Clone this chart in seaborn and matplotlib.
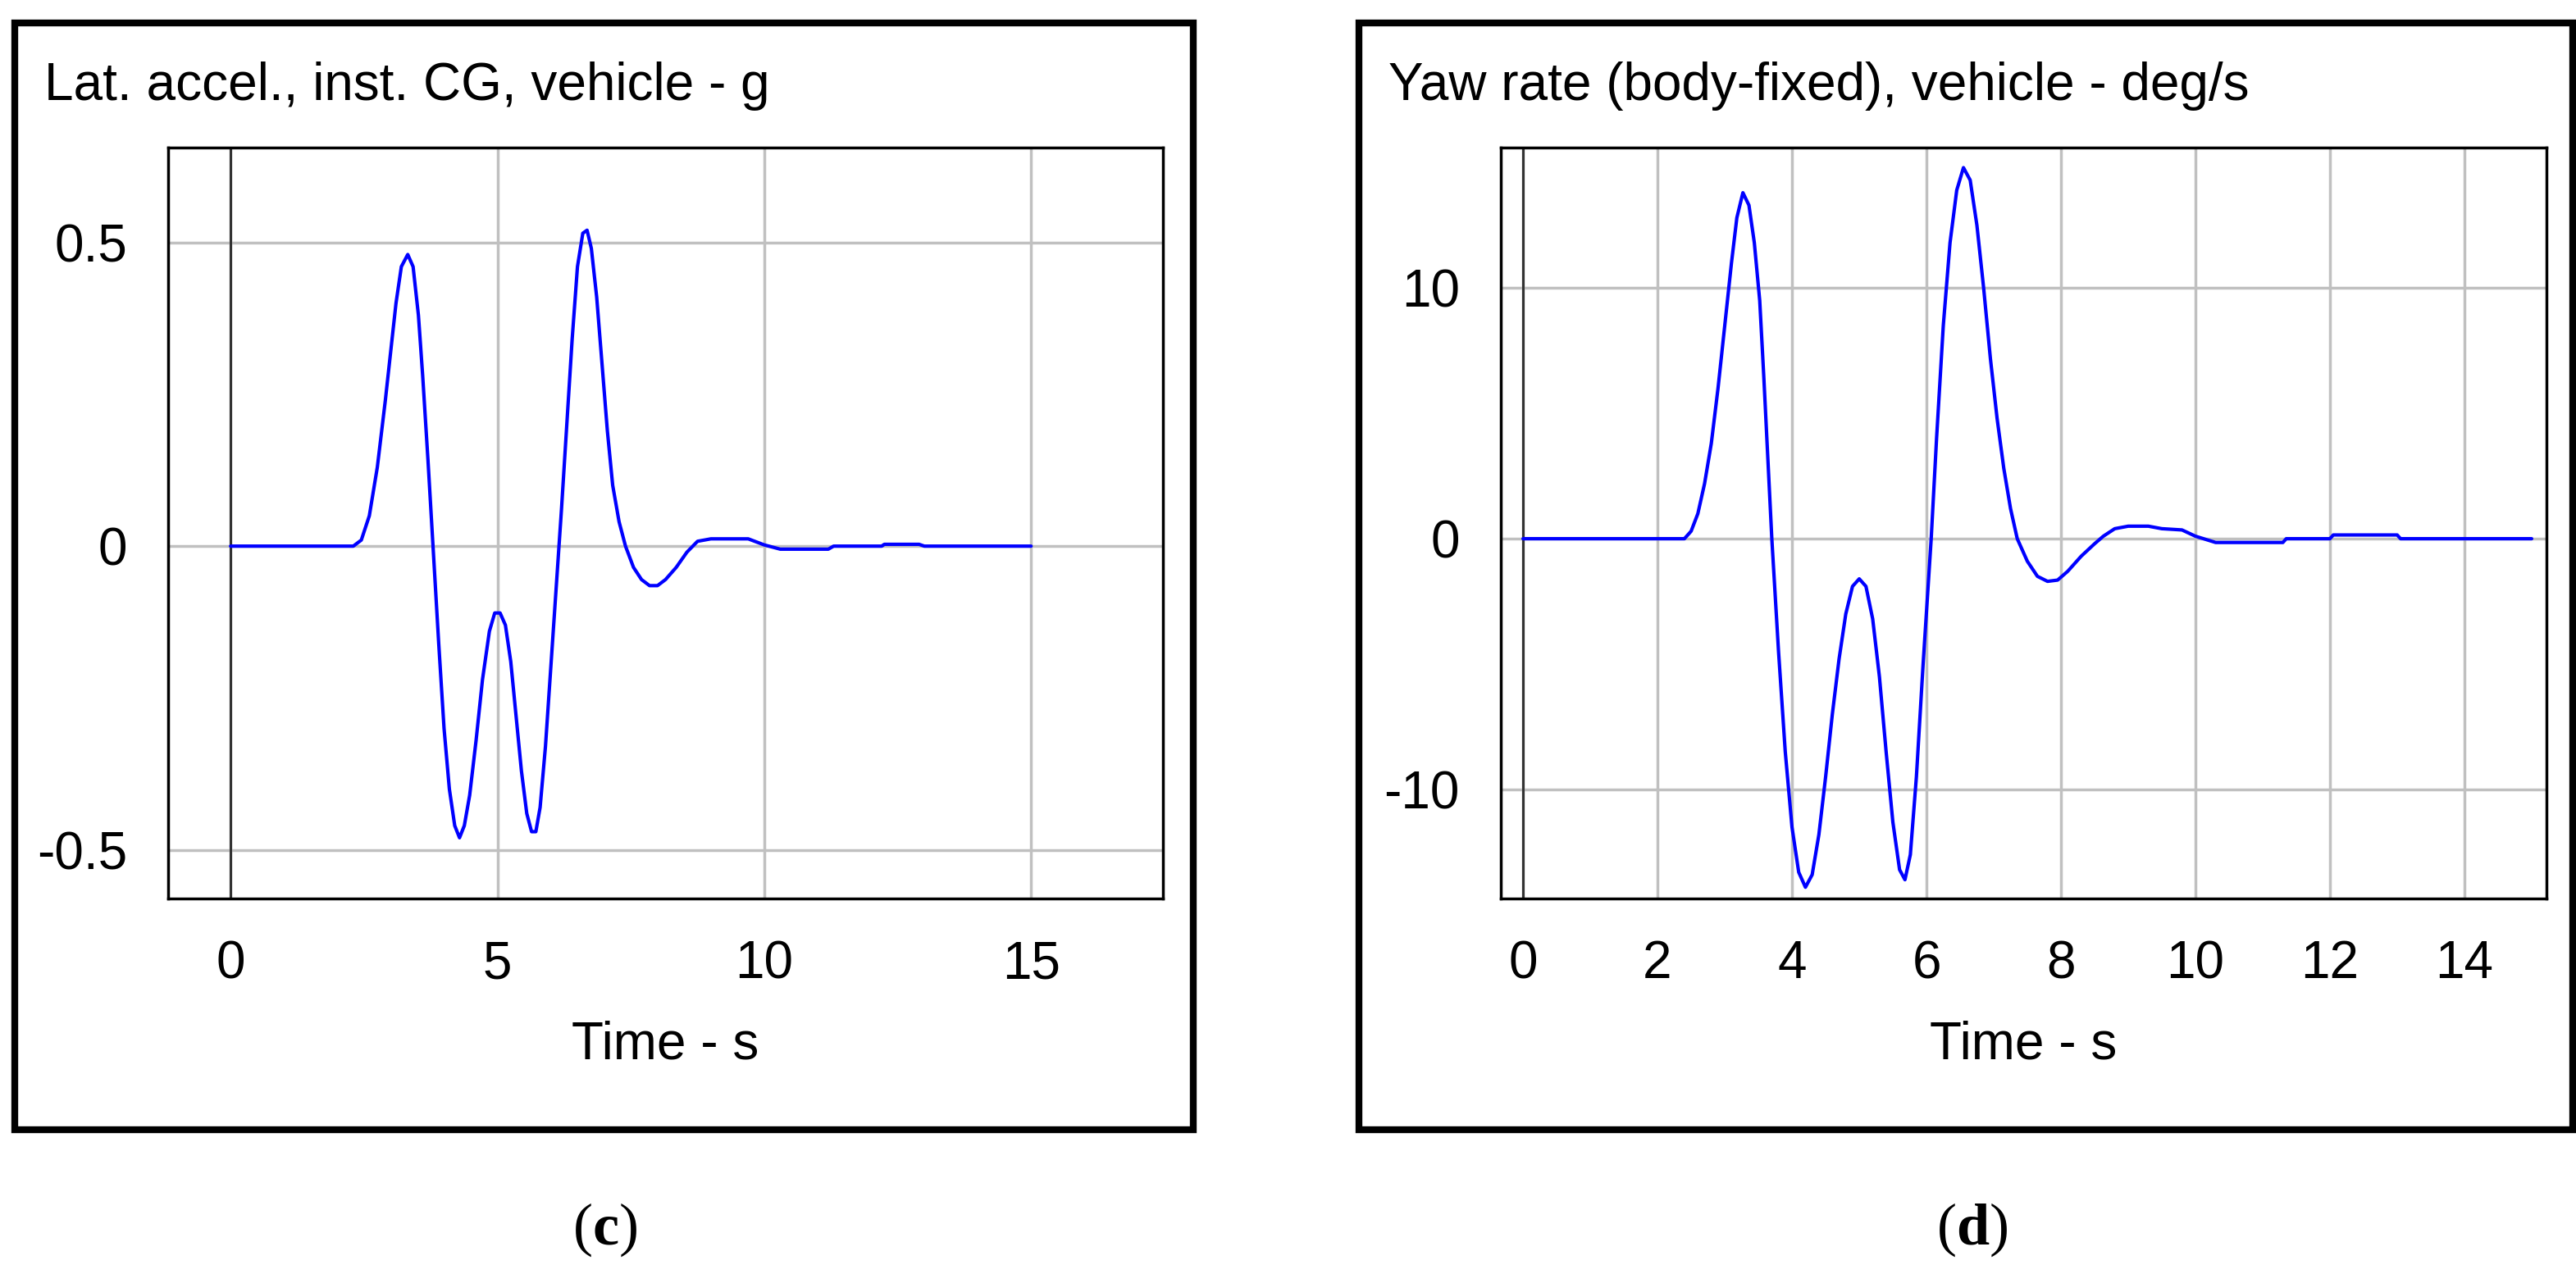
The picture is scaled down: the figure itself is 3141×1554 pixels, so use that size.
import numpy as np
import pandas as pd
import matplotlib
matplotlib.use("Agg")
import matplotlib.pyplot as plt
import seaborn as sns
from matplotlib.patches import Rectangle

# ---- data ----
t_lat = [0, 2.3, 2.45, 2.6, 2.75, 2.9, 3.0, 3.1, 3.2, 3.32, 3.42, 3.52, 3.6, 3.7, 3.8, 3.9,
         4.0, 4.1, 4.2, 4.29, 4.38, 4.48, 4.6, 4.72, 4.85, 4.95, 5.05, 5.15, 5.25, 5.35, 5.45,
         5.55, 5.64, 5.72, 5.8, 5.9, 6.0, 6.1, 6.2, 6.3, 6.4, 6.5, 6.6, 6.68, 6.76, 6.86, 6.96,
         7.06, 7.16, 7.28, 7.4, 7.55, 7.7, 7.85, 8.0, 8.15, 8.35, 8.55, 8.75, 9.0, 9.7, 10.0,
         10.3, 11.2, 11.3, 12.2, 12.25, 12.9, 13.0, 15.0]
lat_acc = [0, 0, 0.01, 0.05, 0.13, 0.24, 0.32, 0.40, 0.46, 0.48, 0.46, 0.38, 0.28, 0.14, -0.01,
           -0.16, -0.30, -0.40, -0.46, -0.48, -0.46, -0.41, -0.32, -0.22, -0.14, -0.11, -0.11,
           -0.13, -0.19, -0.28, -0.37, -0.44, -0.47, -0.47, -0.43, -0.33, -0.20, -0.07, 0.06,
           0.20, 0.34, 0.46, 0.515, 0.52, 0.49, 0.41, 0.30, 0.19, 0.10, 0.04, 0.0, -0.035,
           -0.055, -0.065, -0.065, -0.055, -0.035, -0.01, 0.008, 0.012, 0.012, 0.002, -0.005,
           -0.005, 0.0, 0.0, 0.003, 0.003, 0.0, 0.0]

t_yaw = [0, 2.4, 2.5, 2.6, 2.7, 2.8, 2.9, 3.0, 3.1, 3.18, 3.27, 3.36, 3.44, 3.52, 3.58, 3.7,
         3.8, 3.9, 4.0, 4.1, 4.2, 4.3, 4.4, 4.5, 4.6, 4.7, 4.8, 4.9, 5.0, 5.1, 5.2, 5.3, 5.4,
         5.5, 5.6, 5.68, 5.76, 5.85, 5.95, 6.07, 6.15, 6.25, 6.35, 6.45, 6.55, 6.65, 6.75, 6.85,
         6.95, 7.05, 7.15, 7.25, 7.35, 7.5, 7.65, 7.8, 7.95, 8.1, 8.3, 8.5, 8.63, 8.8, 9.0, 9.3,
         9.5, 9.8, 10.0, 10.3, 11.3, 11.35, 12.0, 12.05, 13.0, 13.05, 15.0]
yaw_rate = [0, 0, 0.3, 1.0, 2.2, 3.8, 6.0, 8.5, 11.0, 12.8, 13.8, 13.3, 11.8, 9.5, 6.5, 0.0,
            -4.5, -8.5, -11.5, -13.3, -13.9, -13.4, -11.8, -9.5, -7.0, -4.8, -3.0, -1.9, -1.6,
            -1.9, -3.2, -5.5, -8.5, -11.3, -13.2, -13.6, -12.6, -9.5, -5.0, 0.0, 4.0, 8.5, 11.8,
            13.9, 14.8, 14.3, 12.5, 10.0, 7.2, 4.8, 2.8, 1.2, 0.0, -0.9, -1.5, -1.7, -1.65, -1.3,
            -0.7, -0.2, 0.1, 0.4, 0.5, 0.5, 0.4, 0.35, 0.1, -0.15, -0.15, 0.0, 0.0, 0.15, 0.15,
            0.0, 0.0]

sns.set_style("white")
plt.rcParams['font.family'] = ['Liberation Sans', 'DejaVu Sans']
plt.rcParams['text.color'] = 'black'
plt.rcParams['xtick.color'] = 'black'
plt.rcParams['ytick.color'] = 'black'
plt.rcParams['axes.labelcolor'] = 'black'
plt.rcParams['mathtext.fontset'] = 'custom'
plt.rcParams['mathtext.bf'] = 'Liberation Serif:bold'
plt.rcParams['mathtext.rm'] = 'Liberation Serif'

W, H = 3141, 1554
fig = plt.figure(figsize=(W / 100, H / 100), dpi=100)


def panel(box, ax_box, t, y, xticks, yticks, ylabels, xlim, ylim, title, letter, letter_x):
    # outer frame
    fig.patches.append(Rectangle((box[0] / W, 1 - box[3] / H), (box[2] - box[0]) / W,
                                 (box[3] - box[1]) / H, transform=fig.transFigure,
                                 fill=False, ec='black', lw=6))
    ax = fig.add_axes([ax_box[0] / W, 1 - ax_box[3] / H, (ax_box[2] - ax_box[0]) / W,
                       (ax_box[3] - ax_box[1]) / H])
    df = pd.DataFrame({'t': t, 'y': y})
    sns.lineplot(data=df, x='t', y='y', color='#0000ff', lw=3, ax=ax, zorder=3)
    ax.set_xlim(*xlim)
    ax.set_ylim(*ylim)
    ax.set_xticks(xticks)
    ax.set_yticks(yticks)
    ax.set_yticklabels(ylabels)
    ax.grid(True, color='#c0c0c0', lw=2.5)
    ax.axvline(0, color='#333333', lw=2.2, zorder=2)
    for s in ax.spines.values():
        s.set_color('black')
        s.set_linewidth(2.5)
    ax.tick_params(length=0, labelsize=46, pad=36)
    ax.set_xlabel('Time - s', fontsize=46, labelpad=28)
    ax.set_ylabel('')
    fig.text((box[0] + 36) / W, 1 - 105 / H, title, fontsize=46, va='center', ha='left')
    fig.text(letter_x / W, 1 - 1500 / H, r'($\mathbf{' + letter + '}$)', fontsize=52,
             ha='center', va='center', family='Liberation Serif')
    return ax


panel((18, 28, 1455, 1378), (205, 180, 1418, 1096), t_lat, lat_acc,
      [0, 5, 10, 15], [-0.5, 0, 0.5], ['-0.5', '0', '0.5'],
      (-1.17, 17.47), (-0.58, 0.656), 'Lat. accel., inst. CG, vehicle - g', 'c', 738)
panel((1657, 28, 3137, 1378), (1830, 180, 3105, 1096), t_yaw, yaw_rate,
      [0, 2, 4, 6, 8, 10, 12, 14], [-10, 0, 10], ['-10', '0', '10'],
      (-0.33, 15.22), (-14.35, 15.6), 'Yaw rate (body-fixed), vehicle - deg/s', 'd', 2405)

fig.savefig('out.png', dpi=100, facecolor='white')
